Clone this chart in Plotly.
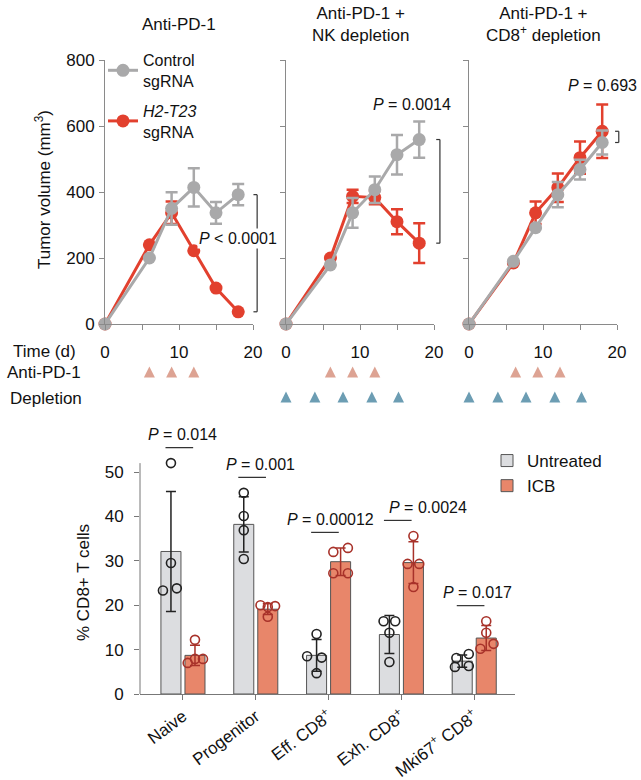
import plotly.graph_objects as go

W, H = 641, 780

# ---------------- data: tumour growth ----------------
days = [0, 6, 9, 12, 15, 18]
panel_titles = ["Anti-PD-1", "Anti-PD-1 +<br>NK depletion", "Anti-PD-1 +<br>CD8<sup>+</sup> depletion"]
ctrl_mean = [[0, 200, 350, 414, 337, 392],
             [0, 179, 337, 407, 513, 559],
             [0, 190, 292, 392, 468, 550]]
ctrl_err = [[0, 0, 49, 58, 33, 32],
            [0, 0, 45, 40, 60, 55],
            [0, 0, 0, 38, 30, 36]]
h2_mean = [[0, 240, 337, 222, 109, 37],
           [0, 200, 387, 383, 310, 245],
           [0, 185, 337, 413, 504, 584]]
h2_err = [[0, 0, 34, 0, 0, 0],
          [0, 0, 20, 20, 38, 60],
          [0, 0, 34, 43, 49, 81]]
growth_p = ["<i>P</i> < 0.0001", "<i>P</i> = 0.0014", "<i>P</i> = 0.693"]
antipd1_days = [[6, 9, 12], [6, 9, 12], [6.3, 9.3, 12.3]]
depletion_days = [[], [0, 3.9, 7.7, 11.6, 15.2], [0, 3.9, 7.7, 11.6, 15.2]]

# ---------------- data: CD8 subsets ----------------
categories = ["Naive", "Progenitor", "Eff. CD8<sup>+</sup>", "Exh. CD8<sup>+</sup>",
              "Mki67<sup>+</sup> CD8<sup>+</sup>"]
untreated_mean = [32.1, 38.2, 8.7, 13.4, 7.4]
untreated_sd = [13.5, 6.2, 3.6, 4.3, 1.4]
icb_mean = [8.7, 19.1, 29.8, 29.6, 12.6]
icb_sd = [2.3, 1.2, 3.1, 4.7, 2.8]
untreated_pts = [[52.0, 29.5, 23.3, 23.8], [45.3, 40.1, 36.9, 30.4], [13.5, 8.5, 8.2, 4.7],
                 [16.4, 16.4, 13.8, 7.2], [8.1, 9.0, 6.1, 6.3]]
icb_pts = [[12.2, 7.0, 7.9, 7.9], [20.0, 19.6, 17.4, 19.8], [32.0, 32.9, 27.2, 27.2],
           [35.6, 29.3, 29.3, 24.1], [16.4, 13.8, 11.3, 10.2]]
bar_p = ["0.014", "0.001", "0.00012", "0.0024", "0.017"]

# ---------------- style ----------------
FONT = "Liberation Sans, Arial, Helvetica, sans-serif"
RED = "#e2402e"
GRAY = "#a9a9aa"
AX = "#8a8a8a"
PD1_C = "#dda393"
DEP_C = "#6c9db3"
U_FILL, U_LINE = "#dcdde0", "#222222"
I_FILL, I_LINE = "#e8866a", "#a8322a"
untreated_jit = [[0, 0, -0.11, 0.08], [0, 0, 0, 0], [0, -0.13, 0.07, 0],
                 [-0.08, 0.08, 0, 0], [-0.08, 0.09, -0.1, 0.09]]
icb_jit = [[0, -0.1, 0, 0.11], [-0.1, 0, 0, 0.1], [-0.1, 0.1, -0.1, 0.1],
           [0, -0.08, 0.08, 0], [0, 0, 0.1, -0.08]]
p_text_dx = [-0.01, 0.06, 0.02, 0.37, 0.04]
growth_p_pos = [(18, 258), (17, 665), (18, 722)]
bracket_x = [1.028, 1.04, 1.012]


def px(p):
    return p / W


def py(p):
    return 1 - p / H


def label(x, y, text, size=17, angle=0):
    return dict(xref="paper", yref="paper", x=px(x), y=py(y), text=text, showarrow=False,
                xanchor="center", yanchor="middle", textangle=angle,
                font=dict(size=size, color="#111111"))


fig = go.Figure()
xa = ["x", "x2", "x3"]
ya = ["y", "y2", "y3"]
xdom = [(105, 253), (286, 434), (469, 617)]

for i in range(3):
    fig.add_trace(go.Scatter(
        x=days, y=h2_mean[i], mode="lines+markers",
        error_y=dict(type="data", array=h2_err[i], color=RED, thickness=2.5, width=6),
        line=dict(color=RED, width=3), marker=dict(size=13, color=RED),
        name="<i>H2-T23</i><br>sgRNA", legendgroup="h2", showlegend=(i == 0), legendrank=2,
        xaxis=xa[i], yaxis=ya[i], cliponaxis=False))
    fig.add_trace(go.Scatter(
        x=days, y=ctrl_mean[i], mode="lines+markers",
        error_y=dict(type="data", array=ctrl_err[i], color=GRAY, thickness=2.5, width=6),
        line=dict(color=GRAY, width=3), marker=dict(size=13, color=GRAY),
        name="Control<br>sgRNA", legendgroup="ctrl", showlegend=(i == 0), legendrank=1,
        xaxis=xa[i], yaxis=ya[i], cliponaxis=False))
    # treatment schedule triangles
    fig.add_trace(go.Scatter(
        x=antipd1_days[i], y=[1] * len(antipd1_days[i]), mode="markers",
        marker=dict(symbol="arrow-up", size=11, color=PD1_C, line=dict(width=0)),
        showlegend=False, xaxis=xa[i], yaxis="y4", cliponaxis=False, hoverinfo="skip"))
    if depletion_days[i]:
        fig.add_trace(go.Scatter(
            x=depletion_days[i], y=[0] * len(depletion_days[i]), mode="markers",
            marker=dict(symbol="arrow-up", size=11, color=DEP_C, line=dict(width=0)),
            showlegend=False, xaxis=xa[i], yaxis="y4", cliponaxis=False, hoverinfo="skip"))

# ---------------- bar chart ----------------
off = 0.165
cat_idx = list(range(len(categories)))
fig.add_trace(go.Bar(
    x=[c - off for c in cat_idx], y=untreated_mean, width=0.275,
    marker=dict(color=U_FILL, line=dict(color="#555555", width=1)),
    error_y=dict(type="data", array=untreated_sd, color=U_LINE, thickness=1.5, width=5),
    name="Untreated", legend="legend2", xaxis="x5", yaxis="y5"))
fig.add_trace(go.Bar(
    x=[c + off for c in cat_idx], y=icb_mean, width=0.275,
    marker=dict(color=I_FILL, line=dict(color="#555555", width=1)),
    error_y=dict(type="data", array=icb_sd, color=I_LINE, thickness=1.5, width=5),
    name="ICB", legend="legend2", xaxis="x5", yaxis="y5"))
ux, uy, ix, iy = [], [], [], []
for c in cat_idx:
    for v, j in zip(untreated_pts[c], untreated_jit[c]):
        ux.append(c - off + j)
        uy.append(v)
    for v, j in zip(icb_pts[c], icb_jit[c]):
        ix.append(c + off + j)
        iy.append(v)
fig.add_trace(go.Scatter(x=ux, y=uy, mode="markers", showlegend=False,
                         marker=dict(symbol="circle-open", size=9, color=U_LINE, line=dict(width=1.6)),
                         xaxis="x5", yaxis="y5"))
fig.add_trace(go.Scatter(x=ix, y=iy, mode="markers", showlegend=False,
                         marker=dict(symbol="circle-open", size=9, color=I_LINE, line=dict(width=1.6)),
                         xaxis="x5", yaxis="y5"))

shapes = []
annotations = []

# P-value lines for bar chart
for c in cat_idx:
    top = max(max(untreated_pts[c]), max(icb_pts[c]),
              untreated_mean[c] + untreated_sd[c], icb_mean[c] + icb_sd[c])
    ly = top + 3.5
    shapes.append(dict(type="line", xref="x5", yref="y5", x0=c - 0.24, x1=c + 0.14,
                       y0=ly, y1=ly, line=dict(color="#333333", width=1.2)))
    annotations.append(dict(xref="x5", yref="y5", x=c + p_text_dx[c], y=ly + 2.9,
                            xanchor="center", yanchor="middle",
                            text="<i>P</i> = " + bar_p[c], showarrow=False,
                            font=dict(size=16, color="#111111")))

# bar chart y axis line (only up to 52)
shapes.append(dict(type="line", xref="x5 domain", yref="y5", x0=0, x1=0, y0=0, y1=52,
                   line=dict(color="#777777", width=1)))

# growth brackets
for i in range(3):
    bx = bracket_x[i]
    y0, y1 = h2_mean[i][-1], ctrl_mean[i][-1]
    xr = xa[i] + " domain"
    shapes.append(dict(type="line", xref=xr, yref=ya[i], x0=bx, x1=bx, y0=y0, y1=y1,
                       line=dict(color="#333333", width=1.2)))
    for yy in (y0, y1):
        shapes.append(dict(type="line", xref=xr, yref=ya[i], x0=bx - 0.025, x1=bx, y0=yy, y1=yy,
                           line=dict(color="#333333", width=1.2)))
    annotations.append(dict(xref=xa[i], yref=ya[i], x=growth_p_pos[i][0], y=growth_p_pos[i][1],
                            xanchor="center", yanchor="middle",
                            text=growth_p[i], showarrow=False,
                            bgcolor="white" if i == 0 else "rgba(0,0,0,0)",
                            font=dict(size=16, color="#111111")))
    cx = (xdom[i][0] + xdom[i][1]) / 2
    annotations.append(label(cx, 25, panel_titles[i]))

# row labels and axis titles
annotations += [
    label(44, 352, "Time (d)"),
    label(44, 372, "Anti-PD-1"),
    label(46, 398, "Depletion"),
    label(43, 190, "Tumor volume (mm<sup>3</sup>)", angle=-90),
    label(83, 583, "% CD8+ T cells", angle=-90),
]

layout = dict(
    width=W, height=H, margin=dict(l=0, r=0, t=0, b=0, autoexpand=False),
    paper_bgcolor="white", plot_bgcolor="white",
    font=dict(family=FONT, size=17, color="#111111"),
    shapes=shapes, annotations=annotations,
    barmode="overlay",
    legend=dict(x=px(103), y=py(43), xanchor="left", yanchor="top", bgcolor="rgba(0,0,0,0)",
                font=dict(size=16), tracegroupgap=6, valign="middle", itemwidth=30,
                traceorder="grouped"),
    legend2=dict(x=px(487), y=py(443), xanchor="left", yanchor="top", bgcolor="rgba(0,0,0,0)",
                 font=dict(size=17), tracegroupgap=0, itemwidth=30),
)

for i in range(3):
    sfx = "" if i == 0 else str(i + 1)
    layout["xaxis" + sfx] = dict(
        domain=[px(xdom[i][0]), px(xdom[i][1])], range=[0, 20], anchor=ya[i],
        tickvals=[0, 5, 10, 15, 20], ticktext=["0", " ", "10", " ", "20"],
        ticks="outside", ticklen=5, tickcolor=AX, showline=True, linecolor=AX, linewidth=1,
        showgrid=False, zeroline=False, ticklabelstandoff=8, automargin=False,
        tickfont=dict(size=17, color="#111111"))
    layout["yaxis" + sfx] = dict(
        domain=[py(324), py(60)], range=[0, 800], anchor=xa[i],
        tickvals=[0, 200, 400, 600, 800], ticks="outside", ticklen=5, tickcolor=AX,
        showline=True, linecolor=AX, linewidth=1, showgrid=False, zeroline=False,
        ticklabelstandoff=1, automargin=False,
        showticklabels=(i == 0), tickfont=dict(size=17, color="#111111"))

# schedule row axis (arrow markers have their apex at the data point)
layout["yaxis4"] = dict(domain=[py(404), py(354)], range=[-0.5, 1.5], anchor="x",
                        visible=False, showgrid=False, zeroline=False, automargin=False)

layout["xaxis5"] = dict(
    domain=[px(140), px(515)], range=[-0.59, 4.56], anchor="y5",
    tickvals=cat_idx, ticktext=categories, tickangle=-37, automargin=False,
    ticks="outside", ticklen=5, tickcolor="#777777", showline=True, linecolor="#777777",
    linewidth=1, showgrid=False, zeroline=False, tickfont=dict(size=17, color="#111111"))
layout["yaxis5"] = dict(
    domain=[py(694), py(694 - 60 * 4.44)], range=[0, 60], anchor="x5", automargin=False,
    tickvals=[0, 10, 20, 30, 40, 50], ticks="outside", ticklen=5, tickcolor="#777777",
    ticklabelstandoff=7,
    showline=False, showgrid=False, zeroline=False, tickfont=dict(size=17, color="#111111"))

fig.update_layout(**layout)
fig.write_html("out.html")
